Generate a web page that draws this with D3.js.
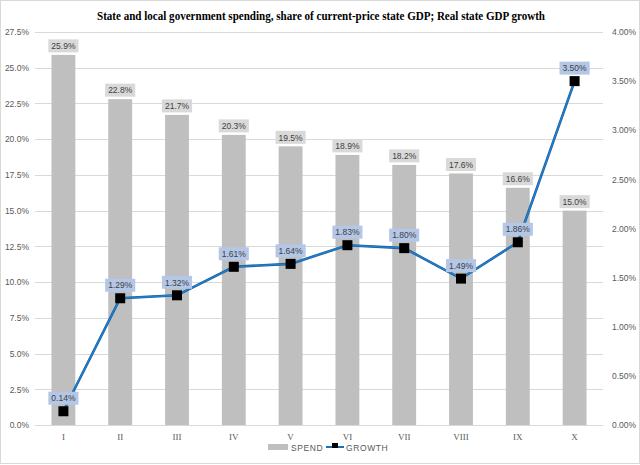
<!DOCTYPE html>
<html><head><meta charset="utf-8">
<script src="https://cdn.jsdelivr.net/npm/d3@7"></script>
<style>body{margin:0;background:#fff}svg{display:block}</style>
</head><body>
<svg id="c" width="640" height="465"></svg>
<script>
const categories = ["I","II","III","IV","V","VI","VII","VIII","IX","X"];
const spend = [25.9, 22.8, 21.7, 20.3, 19.5, 18.9, 18.2, 17.6, 16.6, 15.0];
const growth = [0.14, 1.29, 1.32, 1.61, 1.64, 1.83, 1.80, 1.49, 1.86, 3.50];
const leftTicks = [0,2.5,5,7.5,10,12.5,15,17.5,20,22.5,25,27.5];
const rightTicks = [0,0.5,1,1.5,2,2.5,3,3.5,4];
const title = "State and local government spending, share of current-price state GDP; Real state GDP growth";

const svg = d3.select("#c");
const W=640,H=465;
const m={l:35,r:603,t:32,b:425};
svg.append("rect").attr("x",0.5).attr("y",0.5).attr("width",W-1).attr("height",H-2)
  .attr("fill","#fff").attr("stroke","#d9d9d9");

const x = d3.scaleBand().domain(categories).range([m.l,m.r]).paddingInner(0.58).paddingOuter(0.29);
const yL = d3.scaleLinear().domain([0,27.5]).range([m.b,m.t]);
const yR = d3.scaleLinear().domain([0,4]).range([m.b,m.t]);

svg.append("text").attr("x",321).attr("y",20).attr("text-anchor","middle")
  .attr("font-family","Liberation Serif, serif").attr("font-weight","bold").attr("font-size",12)
  .attr("textLength",448).attr("lengthAdjust","spacingAndGlyphs")
  .attr("fill","#000").text(title);

// grid
svg.append("g").selectAll("line").data(leftTicks).join("line")
  .attr("x1",m.l).attr("x2",m.r).attr("y1",d=>Math.round(yL(d))+0.5).attr("y2",d=>Math.round(yL(d))+0.5)
  .attr("stroke","#d9d9d9").attr("stroke-width",1);

const axFont = "Liberation Sans, sans-serif";
const gL = svg.append("g").attr("transform",`translate(${m.l},0)`)
  .call(d3.axisLeft(yL).tickValues(leftTicks).tickFormat(d=>d3.format(".1f")(d)+"%").tickSize(0).tickPadding(6));
const gR = svg.append("g").attr("transform",`translate(${m.r},0)`)
  .call(d3.axisRight(yR).tickValues(rightTicks).tickFormat(d=>d3.format(".2f")(d)+"%").tickSize(0).tickPadding(9));
const gX = svg.append("g").attr("transform",`translate(0,${m.b})`)
  .call(d3.axisBottom(x).tickSize(0).tickPadding(9));
[gL,gR,gX].forEach(g=>{g.select(".domain").remove();
  g.selectAll("text").attr("font-family",axFont).attr("font-size",8.5).attr("fill","#595959");});
gX.selectAll("text").attr("font-family","Liberation Serif, serif").attr("font-size",9);
gX.append("line").attr("x1",m.l).attr("x2",m.r).attr("y1",0.5).attr("y2",0.5).attr("stroke","#d9d9d9");

// bars
svg.append("g").selectAll("rect").data(categories).join("rect")
  .attr("x",d=>x(d)).attr("width",x.bandwidth())
  .attr("y",(d,i)=>yL(spend[i])).attr("height",(d,i)=>m.b-yL(spend[i]))
  .attr("fill","#bfbfbf");

// line
const line = d3.line().x((d,i)=>x(categories[i])+x.bandwidth()/2).y(d=>yR(d));
svg.append("path").datum(growth).attr("d",line).attr("fill","none")
  .attr("stroke","#1b5e9a").attr("stroke-width",2.6);
svg.append("path").datum(growth).attr("d",line).attr("fill","none")
  .attr("stroke","#1f7fcf").attr("stroke-width",1.4);
svg.append("g").selectAll("rect").data(growth).join("rect")
  .attr("x",(d,i)=>x(categories[i])+x.bandwidth()/2-5).attr("y",d=>yR(d)-5)
  .attr("width",10).attr("height",10).attr("fill","#000");

// labels
function label(g, cx, cy, txt, bg){
  const t = g.append("text").attr("x",cx).attr("y",cy+3.2).attr("text-anchor","middle")
    .attr("font-family",axFont).attr("font-size",8.5).attr("fill","#404040").text(txt);
  const w = t.node().getComputedTextLength()+6;
  g.insert("rect","text").attr("x",cx-w/2).attr("y",cy-6.5).attr("width",w).attr("height",13).attr("fill",bg);
}
const lg = svg.append("g");
categories.forEach((c,i)=>{
  const g = lg.append("g");
  label(g, x(c)+x.bandwidth()/2, yL(spend[i])-9, spend[i].toFixed(1)+"%", "#d9d9d9");
});
categories.forEach((c,i)=>{
  const g = lg.append("g");
  label(g, x(c)+x.bandwidth()/2, yR(growth[i])-13, growth[i].toFixed(2)+"%", "#b4c7e7");
});

// legend
const leg = svg.append("g").attr("font-family",axFont).attr("font-size",8.5).attr("fill","#595959");
leg.append("rect").attr("x",268).attr("y",444).attr("width",20).attr("height",6).attr("fill","#bfbfbf");
leg.append("text").attr("x",291).attr("y",450.5).attr("letter-spacing",0.6).text("SPEND");
leg.append("line").attr("x1",326).attr("x2",344).attr("y1",447).attr("y2",447).attr("stroke","#1f6fb5").attr("stroke-width",2);
leg.append("rect").attr("x",332).attr("y",443).attr("width",6).attr("height",5).attr("fill","#000");
leg.append("text").attr("x",346).attr("y",450.5).attr("letter-spacing",0.6).text("GROWTH");
</script>
</body></html>
